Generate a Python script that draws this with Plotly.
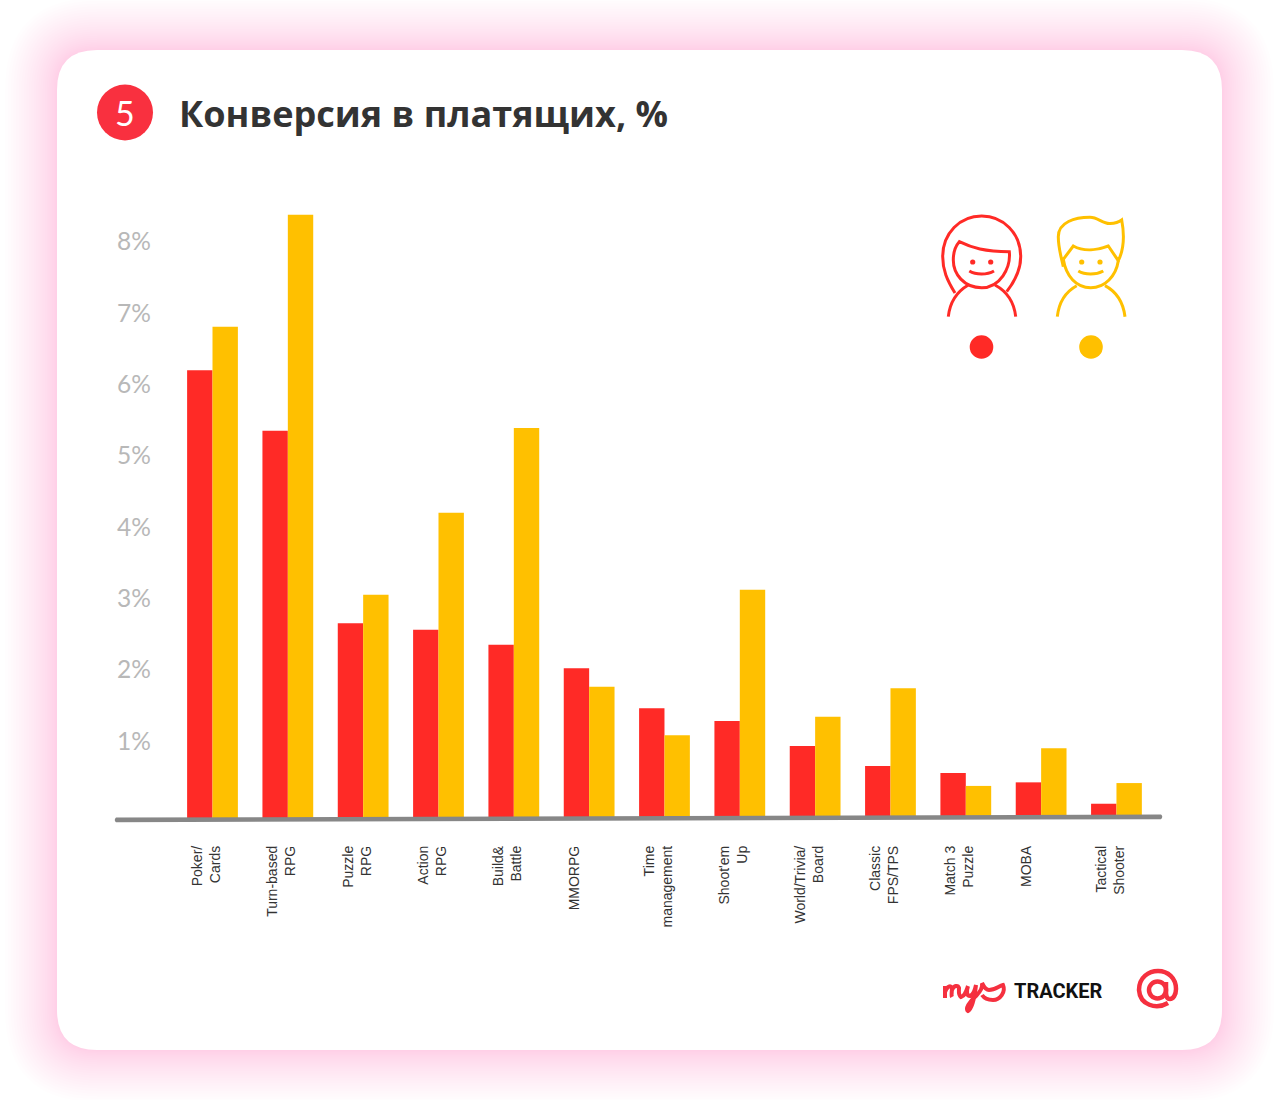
import plotly.graph_objects as go

categories = ["Poker/<br>Cards", "Turn-based<br>RPG", "Puzzle<br>RPG", "Action<br>RPG", "Build&<br>Battle",
              "MMORPG<br> ", "Time<br>management", "Shoot'em<br>Up", "World/Trivia/<br>Board",
              "Classic<br>FPS/TPS", "Match 3<br>Puzzle", "MOBA<br> ", "Tactical<br>Shooter"]
women = [6.20, 5.35, 2.65, 2.56, 2.35, 2.02, 1.46, 1.28, 0.93, 0.65, 0.55, 0.42, 0.12]
men = [6.81, 8.38, 3.05, 4.20, 5.39, 1.76, 1.08, 3.12, 1.34, 1.74, 0.37, 0.90, 0.41]
y_ticks = [1, 2, 3, 4, 5, 6, 7, 8]
y_tick_labels = ["1%", "2%", "3%", "4%", "5%", "6%", "7%", "8%"]
title = "Конверсия в платящих, %"

RED = "#FF2A26"
YEL = "#FFC000"
BADGE = "#F9303F"
W, H = 1280, 1100
# pixel geometry of the plot
L, R, T, B = 114, 1170, 0, 838
X0, DX = 212.5, 75.33
Y0, DY = 812.3, 71.3
BASE = -0.08


def rrect(x0, y0, x1, y1, r):
    return (f"M{x0+r},{y0} L{x1-r},{y0} Q{x1},{y0} {x1},{y0+r} L{x1},{y1-r} Q{x1},{y1} {x1-r},{y1} "
            f"L{x0+r},{y1} Q{x0},{y1} {x0},{y1-r} L{x0},{y0+r} Q{x0},{y0} {x0+r},{y0} Z")


def pshape(path, fill=None, line=None, lw=0, layer="above"):
    d = dict(type="path", path=path, xref="x", yref="y", layer=layer,
             line=dict(width=lw, color=line if line else "rgba(0,0,0,0)"))
    d["fillcolor"] = fill if fill else "rgba(0,0,0,0)"
    return d


def circle(cx, cy, r, fill=None, line=None, lw=0):
    return dict(type="circle", xref="x", yref="y", x0=cx-r, x1=cx+r, y0=cy-r, y1=cy+r,
                layer="above", fillcolor=fill or "rgba(0,0,0,0)",
                line=dict(width=lw, color=line or "rgba(0,0,0,0)"))


shapes = []
# soft pink glow round the card
for i in range(24):
    g = 52 * (1 - i / 24) ** 1.3
    shapes.append(dict(type="path", path=rrect(57-g, 50-g, 1222+g, 1050+g, 40+g), xref="x", yref="y",
                       layer="below", fillcolor="rgba(250,50,70,0.0075)", line=dict(width=0)))
shapes.append(dict(type="path", path=rrect(57, 50, 1222, 1050, 40), xref="x", yref="y",
                   layer="below", fillcolor="white", line=dict(width=0)))
# badge
shapes.append(circle(125, 112.5, 28, fill=BADGE))
# axis line (slightly tilted with round ends)
shapes.append(pshape("M116,817.6 L1161,814.6 Q1163.5,816.8 1161,819.2 L116,822.2 Q113.5,820 116,817.6 Z", fill="#878787"))

# woman
S = 3
shapes += [
    pshape("M955,293 C947,280 942.7,270 942.7,256.7 C942.7,233 960,216 981.7,216 C1003,216 1020.7,233 1020.7,256.7 C1020.7,270 1015,281 1006.7,291.7", line=RED, lw=S),
    pshape("M959.3,241.7 C972,248 985,251.5 1009.3,251.7 C1011,268 1000,287.7 981.7,287.7 C964,287.7 953.3,274 953.3,260 C953.3,252 955.5,246 959.3,241.7 Z", line=RED, lw=S),
    pshape("M969.3,271 C976,275 987,275 994,271", line=RED, lw=S),
    pshape("M948.3,316.7 C950,301 958,291 968.3,285", line=RED, lw=S),
    pshape("M995,285 C1006,291 1014,301 1015.7,316.7", line=RED, lw=S),
    circle(972.7, 262, 2.6, fill=RED), circle(990.7, 262, 2.6, fill=RED),
    circle(981.5, 347, 11.8, fill=RED),
]
# man
shapes += [
    pshape("M1063.3,266.7 C1061,256 1058.3,248 1058.3,236.7 C1058.3,222 1075,217.3 1090,217.3 C1098,217.3 1103,224 1110,223.5 C1115,223.3 1119,222 1121.7,220 C1124,232 1124.5,248 1118.3,260.7 L1108.3,246 C1098,250 1084,252 1073.3,246 L1063.3,259.3", line=YEL, lw=S),
    pshape("M1063.3,259.3 C1066,276 1076,287.7 1090.7,287.7 C1105,287.7 1116,276 1118.3,260.7", line=YEL, lw=S),
    pshape("M1078.3,271 C1085,275 1096,275 1103.3,271", line=YEL, lw=S),
    pshape("M1057.3,316.7 C1059,301 1067,291 1076.7,285.7", line=YEL, lw=S),
    pshape("M1105,285.7 C1115,291 1123,301 1125,316.7", line=YEL, lw=S),
    circle(1081.7, 262, 2.6, fill=YEL), circle(1100, 262, 2.6, fill=YEL),
    circle(1091, 347, 11.8, fill=YEL),
]
# myTracker mark
LOGO = "#F5303F"
shapes += [
    pshape("M945,986 C945,992 945,995 945,998 M945,992 C947,986 951,985 952,988 C952,991 951,995 952,997 M952,990 C954,985 958,985 959,988 C959,991 958,995 961,997 C965,996 966,992 968,986 C966,992 967,996 970,996 C973,995 975,990 976,985 C975,994 973,1008 968,1011 C965,1009 969,1002 976,996 C980,992 983,988 982,983 C984,987 986,990 989,990 C995,990 999,986 1003,985 C1006,992 1000,1000 993,1000 C988,1000 984,998 982,995",
           line=LOGO, lw=4),
]
# @ mark
shapes += [
    pshape("M1168,1003 C1156,1010 1140,1005 1139,990 C1139,977 1149,971 1158,971 C1168,971 1176,978 1176,989 C1176,995 1173,999 1170,999 C1167,999 1166,996 1166,992 L1166,982",
           line=LOGO, lw=4.5),
    circle(1157.5, 990, 8.5, line=LOGO, lw=4.5),
]

bar_x = list(range(len(categories)))
fig = go.Figure()
# invisible helper pair spanning the page in pixels for the decorations
fig.add_scatter(x=[0, W], y=[0, H], xaxis="x", yaxis="y", mode="markers", marker=dict(opacity=0), showlegend=False, hoverinfo="skip")
fig.add_bar(x=bar_x, y=[v - BASE for v in women], base=BASE, name="Женщины", xaxis="x2", yaxis="y2", marker=dict(color=RED, line=dict(width=0)), hoverinfo="skip")
fig.add_bar(x=bar_x, y=[v - BASE for v in men], base=BASE, name="Мужчины", xaxis="x2", yaxis="y2", marker=dict(color=YEL, line=dict(width=0)), hoverinfo="skip")

annotations = [
    dict(text=f"<b>{title}</b>", x=177, y=113, xref="x", yref="y", xanchor="left", yanchor="middle", showarrow=False,
         font=dict(family="Open Sans", size=36.1, color="#333333")),
    dict(text="5", x=125, y=112, xref="x", yref="y", xanchor="center", yanchor="middle", showarrow=False,
         font=dict(family="Lato", size=34, color="white")),
    dict(text="<b>TRACKER</b>", x=1012, y=991, xref="x", yref="y", xanchor="left", yanchor="middle", showarrow=False,
         font=dict(family="Roboto", size=20, color="#111111")),
]

fig.update_layout(
    width=W, height=H, margin=dict(l=0, r=0, t=0, b=0), autosize=False,
    paper_bgcolor="white", plot_bgcolor="rgba(0,0,0,0)",
    barmode="group", bargap=0.326, bargroupgap=0, showlegend=False,
    shapes=shapes, annotations=annotations,
    xaxis=dict(domain=[0, 1], range=[0, W], visible=False, fixedrange=True),
    yaxis=dict(domain=[0, 1], range=[H, 0], visible=False, fixedrange=True),
    xaxis2=dict(domain=[L/W, R/W], range=[(L-X0)/DX, (R-X0)/DX], anchor="y2", tickmode="array", tickvals=bar_x, ticktext=categories,
               tickangle=-90, ticklen=0, showgrid=False, zeroline=False, showline=False, automargin=False,
               ticklabelshift=-6, ticklabelstandoff=4,
               tickfont=dict(family="Liberation Sans", size=14, color="#333333")),
    yaxis2=dict(domain=[1-B/H, 1-T/H], range=[(Y0-B)/DY, (Y0-T)/DY], anchor="x2", tickmode="array", tickvals=y_ticks, ticktext=y_tick_labels,
               ticklabelposition="inside", ticklen=0, showgrid=False, zeroline=False, showline=False, automargin=False,
               tickfont=dict(family="Lato", size=24.5, color="#B8B8B8")),
)
fig.write_html("out.html", post_script="document.body.style.margin='0';document.body.style.overflow='hidden';", config=dict(displayModeBar=False))
